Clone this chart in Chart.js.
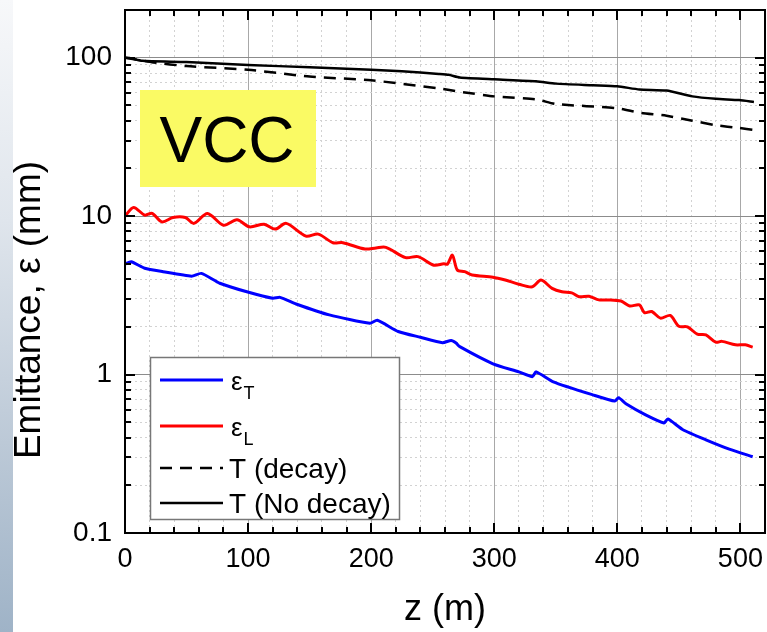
<!DOCTYPE html>
<html>
<head>
<meta charset="utf-8">
<title>VCC emittance</title>
<script src="https://cdn.jsdelivr.net/npm/chart.js@4.4.1/dist/chart.umd.min.js"></script>
<style>
    html, body { margin: 0; padding: 0; background: #fff; }
    #wrap { position: relative; width: 767px; height: 632px; overflow: hidden; }
    #strip {
        position: absolute; left: 0; top: 0; width: 13px; height: 632px;
        background: linear-gradient(to bottom, #f7f8fa 0%, #dfe5ec 35%, #bcc9d7 70%, #9fb3c7 100%);
    }
    canvas { position: absolute; left: 0; top: 0; }
</style>
</head>
<body>
<div id="wrap">
    <div id="strip"></div>
    <canvas id="chart" width="767" height="632"></canvas>
</div>
<script>
const FONT = "Arial, 'Liberation Sans', sans-serif";

// transverse emittance
const zTrans = [0, 5, 16, 31, 54, 62, 77, 99, 120, 126, 139, 166, 199, 205, 222, 240, 258, 265, 269, 272,
    299, 320, 331, 334, 348, 380, 398, 401, 407, 423, 438, 441, 453, 472, 491, 510];
const epsTrans = [4.98, 5.15, 4.69, 4.46, 4.18, 4.35, 3.77, 3.33, 3.03, 3.07, 2.79, 2.38, 2.11, 2.2, 1.87, 1.72, 1.59, 1.64, 1.58, 1.5,
    1.17, 1.04, 0.97, 1.04, 0.9, 0.745, 0.68, 0.715, 0.654, 0.557, 0.495, 0.525, 0.45, 0.387, 0.338, 0.303];

// longitudinal emittance
const zLong = [0, 7, 16, 22, 30, 39, 49, 56, 67, 80, 91, 101, 113, 122, 131, 147, 157, 169, 177, 195, 204, 212,
    228, 238, 251, 259, 262, 266, 270, 276, 282, 299, 309, 320, 331, 338, 347, 355, 363, 369, 377, 385, 392,
    403, 410, 418, 422, 428, 435, 443, 450, 457, 465, 472, 480, 485, 496, 504, 510];
const epsLong = [10, 11.35, 10.15, 10.4, 9.2, 9.8, 9.8, 9.0, 10.4, 8.77, 9.5, 8.56, 8.9, 8.28, 9.0, 7.48, 7.7, 6.79, 6.8, 6.2, 6.3, 6.35,
    5.47, 5.55, 4.9, 5.0, 4.98, 5.67, 4.57, 4.46, 4.25, 4.12, 3.95, 3.72, 3.58, 3.95, 3.5, 3.33, 3.28, 3.1, 3.12, 2.96, 2.96,
    2.91, 2.71, 2.75, 2.46, 2.5, 2.27, 2.36, 2.02, 2.0, 1.8, 1.78, 1.6, 1.62, 1.54, 1.54, 1.49];

// T with decay
const zDecay = [0, 5, 23, 50, 100, 150, 200, 255, 272, 300, 334, 350, 400, 418, 440, 461, 480, 499, 511];
const tDecay = [100, 98.5, 93.4, 88.5, 84, 76, 72, 64, 61, 57, 54.6, 51, 48, 45, 43, 40, 37.5, 36, 35];

// T without decay
const zNoDecay = [0, 5, 14, 50, 100, 150, 200, 225, 255, 263, 272, 300, 334, 350, 380, 400, 418, 440, 461, 480, 499, 511];
const tNoDecay = [100, 99, 95.5, 93.8, 90, 87, 84, 82, 79, 78, 75, 73, 71, 68.6, 67, 66, 63, 62, 57, 55, 54, 52.5];

const yDecades = [0.1, 1, 10, 100];
const xMajorStep = 100;
const xMinorStep = 20;

const toPoints = (xs, ys) => xs.map((x, i) => ({ x: x, y: ys[i] }));
const isDecade = v => yDecades.some(d => Math.abs(v - d) < d * 1e-6);

// log grid: 1..9 x each decade, up to 100
const logTicks = [];
for (let i = 0; i < yDecades.length - 1; i++) {
    for (let m = 1; m <= 9; m++) {
        logTicks.push(+(m * yDecades[i]).toPrecision(3));
    }
}
logTicks.push(yDecades[yDecades.length - 1]);

const legendItems = [
    { label: 'ε', sub: 'T', color: '#0000ff', width: 3, dash: [] },
    { label: 'ε', sub: 'L', color: '#ff0000', width: 3, dash: [] },
    { label: 'T (decay)', color: '#000', width: 2.5, dash: [12, 8] },
    { label: 'T (No decay)', color: '#000', width: 2.5, dash: [] },
];

// frame with inward ticks on all four sides
const frameTicks = {
    id: 'frameTicks',
    afterDraw(chart) {
        const { ctx, chartArea: { left, right, top, bottom }, scales: { x, y } } = chart;
        ctx.save();
        ctx.setLineDash([]);
        ctx.strokeStyle = '#000';
        ctx.lineWidth = 2;
        ctx.beginPath();
        y.ticks.forEach(t => {
            const py = Math.round(y.getPixelForValue(t.value));
            const len = isDecade(t.value) ? 10 : 6;
            ctx.moveTo(left, py);
            ctx.lineTo(left + len, py);
            ctx.moveTo(right, py);
            ctx.lineTo(right - len, py);
        });
        x.ticks.forEach(t => {
            const px = Math.round(x.getPixelForValue(t.value));
            const len = t.value % xMajorStep === 0 ? 10 : 6;
            ctx.moveTo(px, bottom);
            ctx.lineTo(px, bottom - len);
            ctx.moveTo(px, top);
            ctx.lineTo(px, top + len);
        });
        ctx.stroke();
        ctx.strokeRect(left, top, right - left, bottom - top);

        // y axis title, drawn by hand so it can sit below the axis centre
        ctx.fillStyle = '#000';
        ctx.font = '37px ' + FONT;
        ctx.textAlign = 'center';
        ctx.textBaseline = 'alphabetic';
        ctx.translate(40, 310);
        ctx.rotate(-Math.PI / 2);
        ctx.fillText('Emittance, ε (mm)', 0, 0);
        ctx.restore();
    }
};

const vccLabel = {
    id: 'vccLabel',
    beforeDatasetsDraw(chart) {
        const { ctx } = chart;
        ctx.save();
        ctx.fillStyle = '#fafa64';
        ctx.fillRect(140, 90, 176, 97);
        ctx.fillStyle = '#000';
        ctx.font = '64px ' + FONT;
        ctx.textAlign = 'center';
        ctx.textBaseline = 'alphabetic';
        ctx.fillText('VCC', 227, 162);
        ctx.restore();
    }
};

const boxLegend = {
    id: 'boxLegend',
    afterDatasetsDraw(chart) {
        const { ctx } = chart;
        const bx = 150, by = 357, bw = 249, bh = 162;
        const rows = [23, 69, 111, 146];
        ctx.save();
        ctx.fillStyle = '#fff';
        ctx.fillRect(bx, by, bw, bh);
        ctx.strokeStyle = '#777';
        ctx.lineWidth = 1.5;
        ctx.strokeRect(bx + 0.5, by + 0.5, bw, bh);
        legendItems.forEach((item, i) => {
            const ry = by + rows[i];
            ctx.strokeStyle = item.color;
            ctx.lineWidth = item.width;
            ctx.setLineDash(item.dash);
            ctx.beginPath();
            ctx.moveTo(bx + 10, ry);
            ctx.lineTo(bx + 73, ry);
            ctx.stroke();
            ctx.setLineDash([]);
            ctx.fillStyle = '#000';
            ctx.textAlign = 'left';
            ctx.textBaseline = 'alphabetic';
            if (item.sub) {
                ctx.font = '26px ' + FONT;
                ctx.fillText(item.label, bx + 81, ry + 10);
                const w = ctx.measureText(item.label).width;
                ctx.font = '18px ' + FONT;
                ctx.fillText(item.sub, bx + 82 + w, ry + 19);
            } else {
                ctx.font = '28px ' + FONT;
                ctx.fillText(item.label, bx + 79, ry + 10);
            }
        });
        ctx.restore();
    }
};

Chart.defaults.font.family = FONT;
Chart.defaults.color = '#000';

new Chart(document.getElementById('chart'), {
    type: 'line',
    data: {
        datasets: [
            {
                label: 'T (No decay)',
                data: toPoints(zNoDecay, tNoDecay),
                borderColor: '#000',
                borderWidth: 2.5,
                tension: 0.2
            },
            {
                label: 'T (decay)',
                data: toPoints(zDecay, tDecay),
                borderColor: '#000',
                borderWidth: 2.5,
                borderDash: [12, 8],
                tension: 0.2
            },
            {
                label: 'εL',
                data: toPoints(zLong, epsLong),
                borderColor: '#ff0000',
                borderWidth: 3,
                tension: 0.3
            },
            {
                label: 'εT',
                data: toPoints(zTrans, epsTrans),
                borderColor: '#0000ff',
                borderWidth: 3,
                tension: 0.2
            }
        ]
    },
    options: {
        responsive: false,
        animation: false,
        devicePixelRatio: 1,
        layout: { padding: { top: 10, right: 2, left: 0, bottom: 0 } },
        elements: { point: { radius: 0 }, line: { fill: false } },
        plugins: { legend: { display: false }, tooltip: { enabled: false } },
        scales: {
            x: {
                type: 'linear',
                min: 0,
                max: 520,
                afterBuildTicks: scale => {
                    const ticks = [];
                    for (let v = 0; v <= 520; v += xMinorStep) ticks.push({ value: v });
                    scale.ticks = ticks;
                },
                afterFit: scale => {
                    scale.height = 99;
                    scale.paddingLeft = 0;
                    scale.paddingRight = 0;
                },
                ticks: {
                    autoSkip: false,
                    maxRotation: 0,
                    padding: 10,
                    font: { size: 27 },
                    callback: v => (v % xMajorStep === 0 && v <= 500 ? String(v) : '')
                },
                grid: {
                    drawTicks: false,
                    lineWidth: 1,
                    color: ctx => (ctx.tick && ctx.tick.value % xMajorStep === 0 ? '#a8a8a8' : '#d2d2d2')
                },
                border: {
                    display: false,
                    dash: ctx => (ctx.tick && ctx.tick.value % xMajorStep === 0 ? [] : [2, 3])
                },
                title: {
                    display: true,
                    text: 'z (m)',
                    font: { size: 36 },
                    padding: { top: 0, bottom: 0 }
                }
            },
            y: {
                type: 'logarithmic',
                min: 0.1,
                max: 200,
                afterBuildTicks: scale => {
                    scale.ticks = logTicks.map(v => ({ value: v }));
                },
                afterFit: scale => {
                    scale.width = 125;
                    scale.paddingTop = 0;
                    scale.paddingBottom = 0;
                },
                ticks: {
                    autoSkip: false,
                    padding: 13,
                    font: { size: 28 },
                    callback: v => (isDecade(v) ? String(v) : '')
                },
                grid: {
                    drawTicks: false,
                    lineWidth: 1,
                    color: ctx => (ctx.tick && isDecade(ctx.tick.value) ? '#8c8c8c' : '#d2d2d2')
                },
                border: {
                    display: false,
                    dash: ctx => (ctx.tick && isDecade(ctx.tick.value) ? [] : [2, 3])
                }
            }
        }
    },
    plugins: [vccLabel, boxLegend, frameTicks]
});
</script>
</body>
</html>
